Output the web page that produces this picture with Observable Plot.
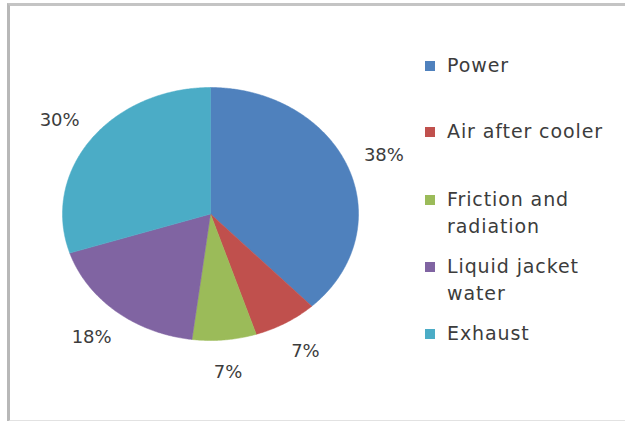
<!DOCTYPE html>
<html>
<head>
<meta charset="utf-8">
<script src="https://cdn.jsdelivr.net/npm/d3@7"></script>
<script src="https://cdn.jsdelivr.net/npm/@observablehq/plot@0.6"></script>
<style>
  html, body { margin: 0; padding: 0; background: #fff; }
  #wrap { position: relative; width: 625px; height: 421px; overflow: hidden; font-family: "DejaVu Sans", sans-serif; }
  #frame { position: absolute; left: 7px; top: 3px; width: 640px; height: 414px; border-left: 3px solid #b8b8b8; border-top: 3px solid #c4c4c4; border-bottom: 2px solid #e2e2e2; }
  #chart { position: absolute; left: 0; top: 0; }
  #legend { position: absolute; left: 425px; top: 0; width: 200px; color: #3c3c3c; font-size: 19px; line-height: 27px; letter-spacing: 0.9px; }
  .item { position: absolute; left: 0; display: flex; align-items: flex-start; white-space: nowrap; }
  .sw { width: 10px; height: 10px; margin-top: 9px; margin-right: 12px; flex: none; }
</style>
</head>
<body>
<div id="wrap">
  <div id="frame"></div>
  <div id="chart"></div>
  <div id="legend"></div>
</div>
<script>
const categories = ["Power", "Air after cooler", "Friction and radiation", "Liquid jacket water", "Exhaust"];
const legendLines = [["Power"], ["Air after cooler"], ["Friction and", "radiation"], ["Liquid jacket", "water"], ["Exhaust"]];
const values = [38, 7, 7, 18, 30];
const labels = ["38%", "7%", "7%", "18%", "30%"];
const colors = ["#4F81BD", "#C0504D", "#9BBB59", "#8064A2", "#4BACC6"];

const data = categories.map((c, i) => ({category: c, value: values[i], label: labels[i]}));
const arcs = d3.pie().sort(null).value(d => d.value)(data);

// polygon vertices for each slice (unit circle, angle clockwise from top)
const verts = [];
for (const a of arcs) {
  const n = Math.max(4, Math.ceil((a.endAngle - a.startAngle) / 0.01));
  verts.push({category: a.data.category, x: 0, y: 0});
  for (let k = 0; k <= n; k++) {
    const t = a.startAngle + (a.endAngle - a.startAngle) * k / n;
    verts.push({category: a.data.category, x: Math.sin(t), y: Math.cos(t)});
  }
  verts.push({category: a.data.category, x: 0, y: 0});
}
const labelR = 1.26;
const labelPts = arcs.map(a => {
  const m = (a.startAngle + a.endAngle) / 2;
  return {label: a.data.label, x: Math.sin(m) * labelR, y: Math.cos(m) * labelR};
});

const plot = Plot.plot({
  width: 625,
  height: 421,
  margin: 0,
  x: {domain: [-1, 1], range: [62, 358], axis: null},
  y: {domain: [-1, 1], range: [340, 87], axis: null},
  color: {domain: categories, range: colors},
  style: {background: "transparent", fontFamily: "'DejaVu Sans', sans-serif"},
  marks: [
    Plot.line(verts, {x: "x", y: "y", z: "category", fill: "category", stroke: "category", strokeWidth: 0.5, curve: "linear"}),
    Plot.text(labelPts, {x: "x", y: "y", text: "label", fontSize: 18, fill: "#3c3c3c"})
  ]
});
document.getElementById("chart").appendChild(plot);

// legend
const legendTops = [52, 118, 186, 253, 320];
const lg = document.getElementById("legend");
categories.forEach((c, i) => {
  const it = document.createElement("div");
  it.className = "item";
  it.style.top = legendTops[i] + "px";
  const sw = document.createElement("div");
  sw.className = "sw";
  sw.style.background = colors[i];
  const tx = document.createElement("div");
  tx.innerHTML = legendLines[i].join("<br>");
  it.appendChild(sw);
  it.appendChild(tx);
  lg.appendChild(it);
});
</script>
</body>
</html>
